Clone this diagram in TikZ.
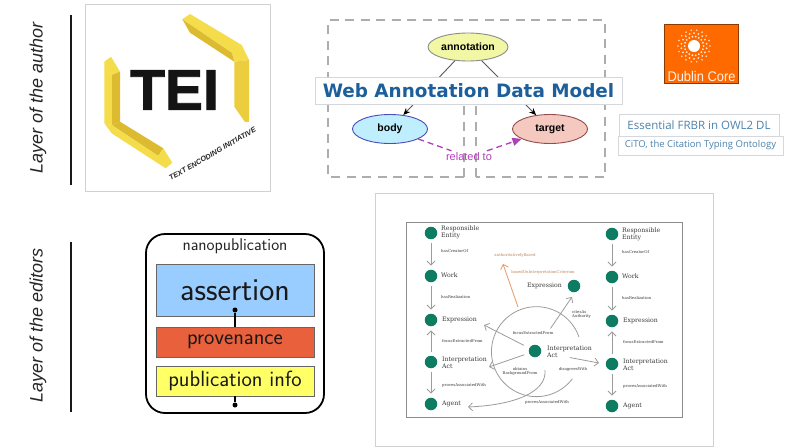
\documentclass[tikz,border=0pt]{standalone}
\usepackage{fontspec}
\setmainfont{Liberation Sans}
\newfontfamily\dvs{DejaVu Sans}
\newfontfamily\dvr{DejaVu Serif}
\newfontfamily\opn{Open Sans}
\newfontfamily\teifont[FakeBold=1.6]{Liberation Sans Bold}
\usetikzlibrary{arrows.meta,shapes.geometric}
\newcommand{\fsz}[1]{\fontsize{#1}{#1}\selectfont}
\definecolor{frgreen}{HTML}{0E7C62}
\definecolor{frgray}{HTML}{9C9C9C}
\definecolor{frorange}{HTML}{E49A68}
\definecolor{frtext}{HTML}{3A3A3A}
\definecolor{teil}{HTML}{F5DC4A}
\definecolor{teim}{HTML}{EBCD3E}
\definecolor{teid}{HTML}{DDBB30}
\definecolor{wablue}{HTML}{1C5F9B}
\definecolor{wapurple}{HTML}{B13FB8}
\definecolor{boxline}{HTML}{D4D8DC}
\definecolor{linkblue}{HTML}{4C83AD}
\definecolor{dcorange}{HTML}{FF6A00}
\tikzset{
  layerlabel/.style={rotate=90,font=\itshape\fsz{18},text=black!85},
  layerrule/.style={line width=2.6pt,black!90},
  photobox/.style={draw=black!18,line width=.7pt,fill=white},
  waellipse/.style={ellipse,draw,line width=.9pt,inner sep=0pt,font=\bfseries\fsz{10.5}},
  waarrow/.style={line width=.9pt,black!65,-{Stealth[length=7pt,width=6pt,black]}},
  wadash/.style={draw=black!32,line width=1.5pt,dash pattern=on 9pt off 6.5pt},
  banner/.style={draw=boxline,line width=.7pt,fill=white,inner sep=0pt},
  linkbox/.style={draw=boxline,line width=.7pt,fill=white,inner sep=0pt,text=linkblue},
  nanobox/.style={draw=black!60,line width=.6pt,minimum width=158pt,inner sep=0pt,font=\sffamily},
  nanodot/.style={circle,fill=black,inner sep=0pt,minimum size=5pt},
  frnode/.style={circle,fill=frgreen,inner sep=0pt,minimum size=12.5pt},
  frbig/.style={anchor=west,font=\dvr\fsz{6.2},text=frtext,align=left,inner sep=0pt},
  frsmall/.style={anchor=west,font=\dvr\fsz{3.9},text=frtext,inner sep=0pt},
  frmid/.style={font=\dvr\fsz{3.9},text=frtext,inner sep=0pt,align=center},
  frorg/.style={font=\dvr\fsz{3.9},text=frorange!85!black,inner sep=0pt},
  frarrow/.style={frgray,line width=.8pt,-{Straight Barb[length=4pt,width=8pt]},shorten <=4pt,shorten >=4pt},
  frfree/.style={frgray,line width=.8pt,-{Straight Barb[length=4pt,width=8pt]}},
}
\begin{document}
\begin{tikzpicture}[x=1pt,y=-1pt]
\useasboundingbox (0,0) rectangle (794,447);
\fill[white] (0,0) rectangle (794,447);

% layer labels and rules
\node[layerlabel] (lauthor) at (38,98) {Layer of the author};
\node[layerlabel] (leditor) at (38,325.5) {Layer of the editors};
\draw[layerrule] (71,15) -- (71,185);
\draw[layerrule] (71,242) -- (71,412);

% TEI logo
\node[photobox,minimum width=185pt,minimum height=187pt,inner sep=0pt] (teibox) at (177.5,97.5) {};
% upper right bracket
\fill[teil] (182.3,19.3) -- (190,14) -- (241.7,45) -- (249,60) -- (234.3,61.7) -- (232,53) -- cycle;
\fill[teid] (182.3,19.3) -- (232,53) -- (234.3,61.7) -- (190,32.7) -- cycle;
\fill[teim] (234.3,61.7) -- (249,60) -- (249,121.7) -- (245,122) -- (234.3,106.7) -- cycle;
% lower left bracket
\fill[teil] (104.3,61.7) -- (111,56.7) -- (120,71.7) -- (111.7,75) -- cycle;
\fill[teil] (104.3,61.7) -- (111.7,75) -- (111.7,125) -- (104.3,123.3) -- cycle;
\fill[teid] (111.7,75) -- (120,71.7) -- (120,121.7) -- (111.7,125) -- cycle;
\fill[teid] (120,121.7) -- (163.3,148.3) -- (158.3,156) -- (111.7,125) -- cycle;
\fill[teil] (104.3,123.3) -- (111.7,125) -- (158.3,156) -- (163.3,148.3) -- (172.3,162.7) -- (165.7,168.3) -- (111.7,133.3) -- cycle;
\node[inner sep=0pt,font=\teifont\fsz{57},text=black!92] (tei) at (174.5,90) {TEI};
\node[inner sep=0pt,rotate=30,font=\bfseries\itshape\fsz{7.3},text=black!85] (teisub) at (212.5,154) {TEXT ENCODING INITIATIVE};

% Web Annotation
\draw[wadash] (464,177) -- (328,177) -- (328,20) -- (605,20) -- (605,177) -- (476,177);
\draw[wadash] (464,177) -- (464,100);
\draw[wadash] (476,177) -- (476,100);
\definecolor{annfill}{HTML}{F2F7A6}
\definecolor{bodfill}{HTML}{BFEFFF}
\definecolor{tgtfill}{HTML}{F6C9C0}
\node[waellipse,fill=annfill,draw=black!45,minimum width=80pt,minimum height=28pt] (ann) at (468,47) {annotation};
\node[waellipse,fill=bodfill,draw=blue!60!black!70,minimum width=75pt,minimum height=29pt] (bod) at (390,129) {body};
\node[waellipse,fill=tgtfill,draw=red!40!black!70,minimum width=75pt,minimum height=29pt] (tgt) at (550,129) {target};
\node[inner sep=0pt,minimum width=56pt,minimum height=12pt,font=\fsz{11},text=wapurple] (rel) at (469,157) {related to};
\draw[waarrow] (ann) -- (bod);
\draw[waarrow] (ann) -- (tgt);
\draw[wapurple,line width=1.3pt,dash pattern=on 6pt off 4pt] (bod) -- (rel);
\draw[wapurple,line width=1.3pt,dash pattern=on 6pt off 4pt,-{Triangle[length=9pt,width=8pt]}] (rel) -- (tgt);
\node[banner,minimum width=307pt,minimum height=27pt,text=wablue] (wam) at (468.5,90.5) {\dvs\bfseries\fsz{18.4}Web Annotation Data Model};

% Dublin Core
\node[fill=dcorange,draw=black!45!dcorange,line width=.5pt,minimum width=74pt,minimum height=59pt,inner sep=0pt] (dc) at (701,53.5) {};
\fill[white] (694,46) circle (6pt);
\begin{scope}[shift={(694,46)}]
  \foreach \a in {0,20,...,340} {
    \fill[white!90!dcorange] (\a:9.5pt) circle (1pt);
    \fill[white!85!dcorange] (\a+10:12.8pt) circle (1pt);
    \fill[white!80!dcorange] (\a:16pt) circle (.9pt);
  }
\end{scope}
\node[inner sep=0pt,font=\fsz{14},text=white!90!dcorange,xscale=.92] (dclabel) at (701.5,76) {Dublin Core};

% link boxes
\node[linkbox,minimum width=160pt,minimum height=22pt,font=\opn\fsz{11.5}] (frbr) at (699,125) {Essential FRBR in OWL2 DL};
\node[linkbox,minimum width=165pt,minimum height=19pt,font=\opn\fsz{9.5}] (cito) at (700.5,145.5) {CiTO, the Citation Typing Ontology};

% nanopublication
\definecolor{assertfill}{HTML}{99CCFF}
\definecolor{provfill}{HTML}{E8603C}
\definecolor{pubfill}{HTML}{FFFF66}
\node[draw=black,line width=1.8pt,rounded corners=19pt,fill=white,minimum width=178pt,minimum height=179pt,inner sep=0pt] (nano) at (235,323.5) {};
\node[inner sep=0pt,font=\sffamily\fsz{17},text=black!85] (nanot) at (235,246) {nanopublication};
\node[nanobox,fill=assertfill,minimum height=52pt,font=\sffamily\fsz{32},text=black!90] (asrt) at (235,290) {assertion};
\node[nanobox,fill=provfill,minimum height=30pt,font=\sffamily\fsz{22},text=black!90] (prov) at (235,342) {provenance};
\node[nanobox,fill=pubfill,minimum height=30pt,font=\sffamily\fsz{22},text=black!90] (pubi) at (235,381) {publication info};
\node[nanodot] (dot1) at (235,310) {};
\node[nanodot] (dot2) at (235,405) {};
\draw[line width=1.3pt,black] (dot1) -- (prov.north);
\draw[line width=1.3pt,black] (pubi.south) -- (dot2);

% FRBR figure
\node[photobox,minimum width=338pt,minimum height=253pt,inner sep=0pt] (frout) at (544,319.5) {};
\node[draw=black!45,line width=.8pt,fill=white,minimum width=276pt,minimum height=195pt,inner sep=0pt] (frin) at (544,319.5) {};

\node[frnode] (l1) at (431,233) {};
\node[frnode] (l2) at (431,276) {};
\node[frnode] (l3) at (431,320) {};
\node[frnode] (l4) at (431,362) {};
\node[frnode] (l5) at (431,404) {};
\node[frnode] (r1) at (612,234) {};
\node[frnode] (r2) at (612,277) {};
\node[frnode] (r3) at (612,321) {};
\node[frnode] (r4) at (612,364) {};
\node[frnode] (r5) at (612,406) {};
\node[frnode] (ctr) at (535,351) {};
\node[frnode] (top) at (574,286) {};

\draw[frarrow] (l1) -- (l2);
\draw[frarrow] (l2) -- (l3);
\draw[frarrow] (l4) -- (l3);
\draw[frarrow] (l4) -- (l5);
\draw[frarrow] (r1) -- (r2);
\draw[frarrow] (r2) -- (r3);
\draw[frarrow] (r4) -- (r3);
\draw[frarrow] (r4) -- (r5);

\coordinate (c1) at (484,325);
\coordinate (c2) at (572,297);
\coordinate (c3) at (489,367);
\coordinate (c4) at (599,363);
\coordinate (c5) at (468,407);
\coordinate (o1) at (518,307);
\coordinate (o2) at (503,264);
\draw[frfree,shorten <=6pt] (ctr) -- (c1);
\draw[frfree,shorten <=21pt] (ctr) -- (c2);
\draw[frfree,shorten <=5pt] (ctr) -- (c3);
\draw[frfree,shorten <=29pt] (ctr) -- (c4);
\draw[frgray,line width=.8pt] (579,337) arc[start angle=19,end angle=323,radius=45pt];
\draw[frfree] (545,370) .. controls (547,392) and (515,405) .. (c5);
\draw[frorange,line width=.8pt,-{Straight Barb[length=4pt,width=8pt]}] (o1) -- (o2);

\node[frbig] (t1) at (441,232.5) {Responsible\\[.6pt]Entity};
\node[frbig] (t2) at (441,275) {Work};
\node[frbig] (t3) at (442,320) {Expression};
\node[frbig] (t4) at (442,363) {Interpretation\\[.6pt]Act};
\node[frbig] (t5) at (442,404) {Agent};
\node[frbig] (u1) at (622,234) {Responsible\\[.6pt]Entity};
\node[frbig] (u2) at (622,276) {Work};
\node[frbig] (u3) at (623,321) {Expression};
\node[frbig] (u4) at (623,364.5) {Interpretation\\[.6pt]Act};
\node[frbig] (u5) at (623,406) {Agent};
\node[frbig] (v1) at (547,351.5) {Interpretation\\[.6pt]Act};
\node[frbig] (v2) at (527,286) {Expression};

\node[frsmall] (s1) at (441,251) {hasCreatorOf};
\node[frsmall] (s2) at (441,297) {hasRealization};
\node[frsmall] (s3) at (442,341) {focusExtractedFrom};
\node[frsmall] (s4) at (442,385) {provesAssociatedWith};
\node[frsmall] (w1) at (622,252) {hasCreatorOf};
\node[frsmall] (w2) at (622,298) {hasRealization};
\node[frsmall] (w3) at (623,342) {focusExtractedFrom};
\node[frsmall] (w4) at (623,386) {provesAssociatedWith};
\node[frmid] (m1) at (533,333) {focusExtractedFrom};
\node[frmid,anchor=west,align=left] (m2) at (572,314.5) {citesAs\\[.5pt]Authority};
\node[frmid] (m3) at (520,371.5) {obtains\\[.5pt]BackgroundFrom};
\node[frmid] (m4) at (573,369) {disagreesWith};
\node[frmid] (m5) at (547,402) {provesAssociatedWith};
\node[frorg] (o3) at (515,255) {authoritativelyBased};
\node[frorg] (o4) at (543,272) {basedOnInterpretationCriterion};
\end{tikzpicture}
\end{document}
